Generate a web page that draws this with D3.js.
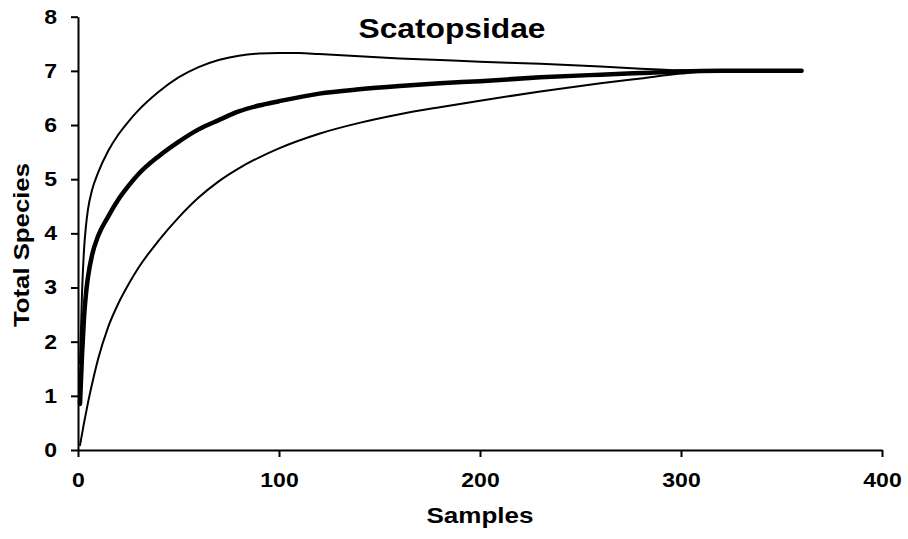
<!DOCTYPE html>
<html>
<head>
<meta charset="utf-8">
<script src="https://cdn.jsdelivr.net/npm/d3@7.9.0/dist/d3.min.js"></script>
<style>
  body { margin: 0; background: #fff; }
  text { font-family: "Liberation Sans", Arial, sans-serif; font-weight: bold; fill: #000; }
</style>
</head>
<body>
<svg id="chart" width="908" height="539"></svg>
<script>
// ----- Data -----
const title = "Scatopsidae";
const xLabel = "Samples";
const yLabel = "Total Species";
const xTicks = [0, 100, 200, 300, 400];
const yTicks = [0, 1, 2, 3, 4, 5, 6, 7, 8];

// mean curve (thick)
const meanX = [1, 2, 3, 4, 5, 7, 10, 15, 20, 25, 30, 40, 50, 60, 70, 80, 90, 100, 120, 140, 160, 180, 200, 230, 260, 280, 300, 320, 340, 360];
const meanY = [0.85, 1.75, 2.45, 2.9, 3.2, 3.6, 3.95, 4.31, 4.62, 4.87, 5.09, 5.42, 5.69, 5.92, 6.09, 6.25, 6.36, 6.44, 6.58, 6.66, 6.72, 6.77, 6.81, 6.88, 6.93, 6.96, 6.99, 7.0, 7.0, 7.0];

// upper bound (thin)
const upperX = [1, 2, 3, 4, 5, 7, 10, 15, 20, 25, 30, 40, 50, 60, 70, 80, 90, 100, 110, 120, 140, 160, 180, 200, 230, 260, 280, 300, 320, 360];
const upperY = [1.6, 2.9, 3.7, 4.15, 4.45, 4.8, 5.12, 5.52, 5.82, 6.06, 6.27, 6.61, 6.88, 7.07, 7.2, 7.28, 7.32, 7.33, 7.33, 7.31, 7.27, 7.23, 7.2, 7.17, 7.13, 7.08, 7.04, 7.01, 7.0, 7.0];

// lower bound (thin)
const lowerX = [1, 3, 5, 8, 10, 15, 20, 25, 30, 40, 50, 60, 70, 80, 90, 100, 120, 140, 160, 180, 200, 230, 260, 280, 300, 320, 340, 360];
const lowerY = [0.09, 0.5, 0.88, 1.38, 1.68, 2.27, 2.7, 3.05, 3.36, 3.86, 4.29, 4.66, 4.96, 5.2, 5.4, 5.57, 5.84, 6.04, 6.2, 6.33, 6.45, 6.62, 6.77, 6.86, 6.95, 7.0, 7.0, 7.0];

// ----- Layout -----
const svg = d3.select("#chart");
const plot = { left: 78, right: 882, top: 16.7, bottom: 450 };

const x = d3.scaleLinear().domain([0, 400]).range([plot.left, plot.right]);
const y = d3.scaleLinear().domain([0, 8]).range([plot.bottom, plot.top]);

// ----- Axes -----
const xAxis = svg.append("g")
  .attr("transform", `translate(0,${plot.bottom})`)
  .call(d3.axisBottom(x).tickValues(xTicks).tickSize(7).tickSizeOuter(0).tickPadding(4));

const yAxis = svg.append("g")
  .attr("transform", `translate(${plot.left},0)`)
  .call(d3.axisLeft(y).tickValues(yTicks).tickSize(7).tickSizeOuter(0).tickPadding(14));

[xAxis, yAxis].forEach(g => {
  g.select(".domain").attr("stroke", "#000").attr("stroke-width", 2);
  g.selectAll(".tick line").attr("stroke", "#000").attr("stroke-width", 2);
  g.selectAll(".tick text")
    .attr("font-size", 20)
    .attr("font-family", "Liberation Sans, Arial, sans-serif")
    .attr("font-weight", "bold")
    .attr("fill", "#000")
    .attr("textLength", d => String(d).length * 12.8)
    .attr("lengthAdjust", "spacingAndGlyphs");
});
// x labels sit lower than d3's default
xAxis.selectAll(".tick text").attr("dy", 26);

// ----- Curves -----
const line = d3.line()
  .x(d => x(d[0]))
  .y(d => y(d[1]))
  .curve(d3.curveMonotoneX);

const series = [
  { xs: upperX, ys: upperY, width: 2 },
  { xs: lowerX, ys: lowerY, width: 2 },
  { xs: meanX, ys: meanY, width: 4.5 }
];

svg.append("g")
  .selectAll("path")
  .data(series)
  .enter()
  .append("path")
  .attr("d", s => line(d3.zip(s.xs, s.ys)))
  .attr("fill", "none")
  .attr("stroke", "#000")
  .attr("stroke-width", s => s.width)
  .attr("stroke-linecap", "round")
  .attr("stroke-linejoin", "round");

// ----- Titles -----
svg.append("text")
  .attr("x", 452).attr("y", 38)
  .attr("text-anchor", "middle")
  .attr("font-size", 28)
  .attr("textLength", 187).attr("lengthAdjust", "spacingAndGlyphs")
  .text(title);

svg.append("text")
  .attr("x", 480).attr("y", 523)
  .attr("text-anchor", "middle")
  .attr("font-size", 22)
  .attr("textLength", 107).attr("lengthAdjust", "spacingAndGlyphs")
  .text(xLabel);

svg.append("text")
  .attr("transform", "translate(29,245) rotate(-90)")
  .attr("text-anchor", "middle")
  .attr("font-size", 22)
  .attr("textLength", 164).attr("lengthAdjust", "spacingAndGlyphs")
  .text(yLabel);
</script>
</body>
</html>
